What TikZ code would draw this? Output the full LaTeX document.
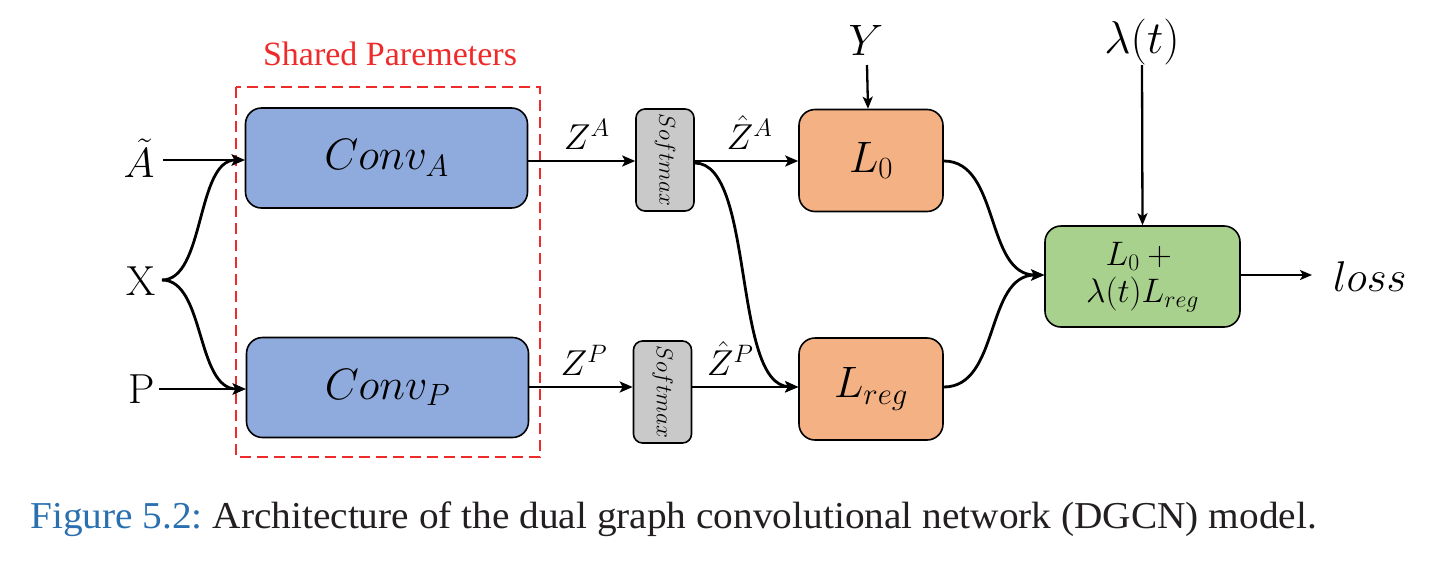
\documentclass[tikz,border=0pt]{standalone}
\usepackage{fix-cm}
\usepackage{fontspec}
\newfontfamily\capfont{Liberation Serif}
\usetikzlibrary{arrows.meta,calc}
\definecolor{convblue}{HTML}{8FAADC}
\definecolor{lossorange}{HTML}{F4B183}
\definecolor{sumgreen}{HTML}{A9D18E}
\definecolor{smgrey}{HTML}{C9C9C9}
\definecolor{sharedred}{HTML}{EE2A2A}
\definecolor{capblue}{HTML}{2A70B0}
\definecolor{captext}{HTML}{231F20}
\newcommand{\fsz}[1]{\fontsize{#1}{#1}\selectfont}
\tikzset{
  blockbox/.style={draw=black, line width=1.6pt, rounded corners=16pt, inner sep=0pt},
  convbox/.style={blockbox, fill=convblue, minimum width=282pt, minimum height=100pt},
  lossbox/.style={blockbox, fill=lossorange, minimum width=144pt, minimum height=102pt},
  sumbox/.style={blockbox, fill=sumgreen, minimum width=195pt, minimum height=101pt},
  smbox/.style={blockbox, rounded corners=9pt, fill=smgrey, minimum width=58pt, minimum height=102pt},
  conn/.style={line width=2.8pt, -{Stealth[length=13pt,width=11pt,inset=3pt]}},
  thinconn/.style={line width=2.3pt, -{Stealth[length=12pt,width=10pt,inset=3pt]}},
  lbl/.style={inner sep=0pt}
}
\begin{document}
\begin{tikzpicture}[x=1pt,y=-1pt]
\useasboundingbox (0,0) rectangle (1456,568);
% dashed shared box
\draw[sharedred, line width=1.8pt, dash pattern=on 11pt off 6pt] (236,87) rectangle (540,457);
\node[lbl, text=sharedred] (shared) at (390,54) {\capfont\fsz{34}Shared Paremeters};
% conv boxes
\node[convbox] (convA) at (386.5,158) {\fsz{44}$Conv_A$};
\node[convbox] (convP) at (387.5,387.5) {\fsz{44}$Conv_P$};
% inputs
\node[lbl] (At) at (139,158) {\fsz{42}$\tilde{A}$};
\node[lbl] (X) at (141,281) {\fsz{42}X};
\node[lbl] (P) at (142,389) {\fsz{42}P};
\coordinate (Xo) at (162,280);
\coordinate (Ain) at (163,160);
\coordinate (Pin) at (159,389);
\draw[conn] (Ain) -- (convA.west |- Ain);
\draw[conn] (Pin) -- (convP.west |- Pin);
\draw[conn] (Xo) .. controls (205,280) and (196,160) .. (convA.west |- Ain);
\draw[conn] (Xo) .. controls (205,280) and (196,389) .. (convP.west |- Pin);
% softmax
\node[smbox] (smA) at (665,160) {\rotatebox{-90}{\fsz{23}$Softmax$}};
\node[smbox] (smP) at (662.5,392) {\rotatebox{-90}{\fsz{23}$Softmax$}};
\draw[conn] (convA.east |- 0,161) -- node[lbl, above=10pt, xshift=5pt] (ZA) {\fsz{36}$Z^A$} (smA.west |- 0,161);
\draw[conn] (convP.east |- 0,387) -- node[lbl, above=10pt, xshift=3pt] (ZP) {\fsz{36}$Z^P$} (smP.west |- 0,387);
% loss boxes
\node[lossbox] (L0) at (871,160.5) {\fsz{44}$L_0$};
\node[lossbox] (Lreg) at (871,389) {\fsz{44}$L_{reg}$};
\draw[conn] (smA.east |- 0,161) -- node[lbl, above=10pt, xshift=3pt] (ZhA) {\fsz{36}$\hat{Z}^A$} (L0.west |- 0,161);
\draw[conn] (smP.east |- 0,387) -- node[lbl, above=10pt, xshift=-15pt] (ZhP) {\fsz{36}$\hat{Z}^P$} (Lreg.west |- 0,387);
\draw[conn] (smA.east |- 0,163) .. controls (755,163) and (732,385) .. (Lreg.west |- 0,387);
% Y
\node[lbl] (Y) at (866,40) {\fsz{44}$Y$};
\draw[thinconn] (867,65) -- (L0.north -| 868,0);
% sum box
\node[sumbox] (sum) at (1142.5,276.5) {\fsz{34}\renewcommand{\arraystretch}{1.1}\begin{tabular}{@{}c@{}}$L_0 +{}$\\$\lambda(t)L_{reg}$\end{tabular}};
\node[lbl] (lam) at (1142,42) {\fsz{46}$\lambda(t)$};
\draw[thinconn] (lam.south |- 0,65) -- (sum.north);
\draw[conn] (L0.east |- 0,161) .. controls (1000,161) and (985,275) .. (sum.west |- 0,275);
\draw[conn] (Lreg.east |- 0,387) .. controls (1000,387) and (985,275) .. (sum.west |- 0,275);
\node[lbl, anchor=west] (loss) at (1333,277) {\fsz{43}$loss$};
\coordinate (lossin) at (1312,275);
\draw[thinconn] (sum.east |- lossin) -- (lossin);
% caption
\node[lbl, anchor=base west, xscale=1.035] (cap) at (30,528) {\capfont\fsz{38}\textcolor{capblue}{Figure 5.2:}\ \textcolor{captext}{Architecture of the dual graph convolutional network (DGCN) model.}};
\end{tikzpicture}
\end{document}
